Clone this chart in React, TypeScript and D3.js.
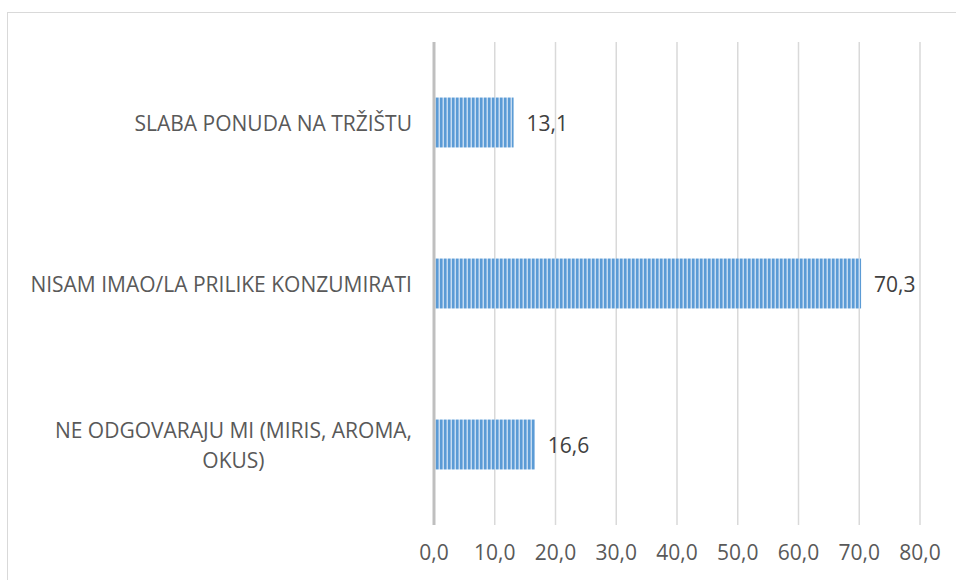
import React, { useEffect, useRef } from 'react';
import * as d3 from 'd3';

// categories top to bottom, as in the chart
const categories = [
  'SLABA PONUDA NA TRŽIŠTU',
  'NISAM IMAO/LA PRILIKE KONZUMIRATI',
  'NE ODGOVARAJU MI (MIRIS, AROMA, OKUS)',
];
const categoryLines = [
  ['SLABA PONUDA NA TRŽIŠTU'],
  ['NISAM IMAO/LA PRILIKE KONZUMIRATI'],
  ['NE ODGOVARAJU MI (MIRIS, AROMA,', 'OKUS)'],
];
const values = [13.1, 70.3, 16.6];
const ticks = [0, 10, 20, 30, 40, 50, 60, 70, 80];

const fmt = (v: number) => v.toFixed(1).replace('.', ',');

const App: React.FC = () => {
  const svgRef = useRef<SVGSVGElement>(null);

  useEffect(() => {
    if (!svgRef.current) return;
    const W = 956;
    const H = 580;
    const margin = { top: 42, left: 434, right: 36, bottom: 55 };
    const font = '"Open Sans", sans-serif';
    const fs = '21px';

    const root = d3.select(svgRef.current);
    root.selectAll('*').remove();
    root.attr('width', W).attr('height', H);

    // stripe pattern for bars
    const defs = root.append('defs');
    const pat = defs.append('pattern')
      .attr('id', 'stripes')
      .attr('patternUnits', 'userSpaceOnUse')
      .attr('width', 4)
      .attr('height', 10);
    pat.append('rect').attr('width', 4).attr('height', 10).attr('fill', '#c5dcf1');
    pat.append('rect').attr('x', 0).attr('width', 2).attr('height', 10).attr('fill', '#5b9bd5');
    pat.append('rect').attr('x', 2).attr('width', 1).attr('height', 10).attr('fill', '#8db8e4');

    root.append('rect')
      .attr('x', 0).attr('y', 0).attr('width', W).attr('height', H)
      .attr('fill', '#ffffff');

    // chart frame
    root.append('rect')
      .attr('x', 7.5).attr('y', 12.5)
      .attr('width', W + 20).attr('height', H + 20)
      .attr('fill', 'none')
      .attr('stroke', '#d9d9d9');

    const x = d3.scaleLinear()
      .domain([0, 80])
      .range([margin.left, W - margin.right]);

    const y = d3.scaleBand()
      .domain(categories)
      .range([margin.top, H - margin.bottom])
      .paddingInner(0.69)
      .paddingOuter(0.345);

    const g = root.append('g');

    // gridlines
    g.selectAll('.grid')
      .data(ticks.slice(1))
      .enter()
      .append('line')
      .attr('x1', d => x(d)).attr('x2', d => x(d))
      .attr('y1', margin.top).attr('y2', H - margin.bottom)
      .attr('stroke', '#d9d9d9')
      .attr('stroke-width', 1.5);

    // bars
    g.selectAll('.bar')
      .data(values)
      .enter()
      .append('rect')
      .attr('x', x(0) + 1)
      .attr('y', (d, i) => y(categories[i])!)
      .attr('width', d => x(d) - x(0) - 1)
      .attr('height', y.bandwidth())
      .attr('fill', 'url(#stripes)');

    // zero axis line
    g.append('line')
      .attr('x1', x(0)).attr('x2', x(0))
      .attr('y1', margin.top).attr('y2', H - margin.bottom)
      .attr('stroke', '#bfbfbf')
      .attr('stroke-width', 3);

    // value labels
    g.selectAll('.val')
      .data(values)
      .enter()
      .append('text')
      .attr('x', d => x(d) + 13)
      .attr('y', (d, i) => y(categories[i])! + y.bandwidth() / 2)
      .attr('dominant-baseline', 'central')
      .style('font-family', font)
      .style('font-size', fs)
      .style('fill', '#404040')
      .text(d => fmt(d));

    // category labels
    const lh = 30;
    categories.forEach((c, i) => {
      const lines = categoryLines[i];
      const cy = y(c)! + y.bandwidth() / 2;
      const t = g.append('text')
        .style('font-family', font)
        .style('font-size', fs)
        .style('fill', '#595959')
        .attr('dominant-baseline', 'central');
      if (lines.length === 1) {
        t.attr('x', 412).attr('y', cy).attr('text-anchor', 'end').text(lines[0]);
      } else {
        // wrapped label: lines centred on each other, block right-aligned
        const tmp = t.append('tspan').text(lines[0]);
        const w0 = (tmp.node() as SVGTSpanElement).getComputedTextLength();
        tmp.remove();
        const cx = 412 - w0 / 2;
        lines.forEach((ln, j) => {
          t.append('tspan')
            .attr('x', cx)
            .attr('y', cy + (j - (lines.length - 1) / 2) * lh)
            .attr('text-anchor', 'middle')
            .text(ln);
        });
      }
    });

    // x tick labels
    g.selectAll('.tick')
      .data(ticks)
      .enter()
      .append('text')
      .attr('x', d => x(d))
      .attr('y', 552)
      .attr('text-anchor', 'middle')
      .attr('dominant-baseline', 'central')
      .style('font-family', font)
      .style('font-size', fs)
      .style('fill', '#595959')
      .text(d => fmt(d));
  }, []);

  return (
    <svg ref={svgRef} style={{ position: 'fixed', top: 0, left: 0, display: 'block' }} />
  );
};

export default App;
